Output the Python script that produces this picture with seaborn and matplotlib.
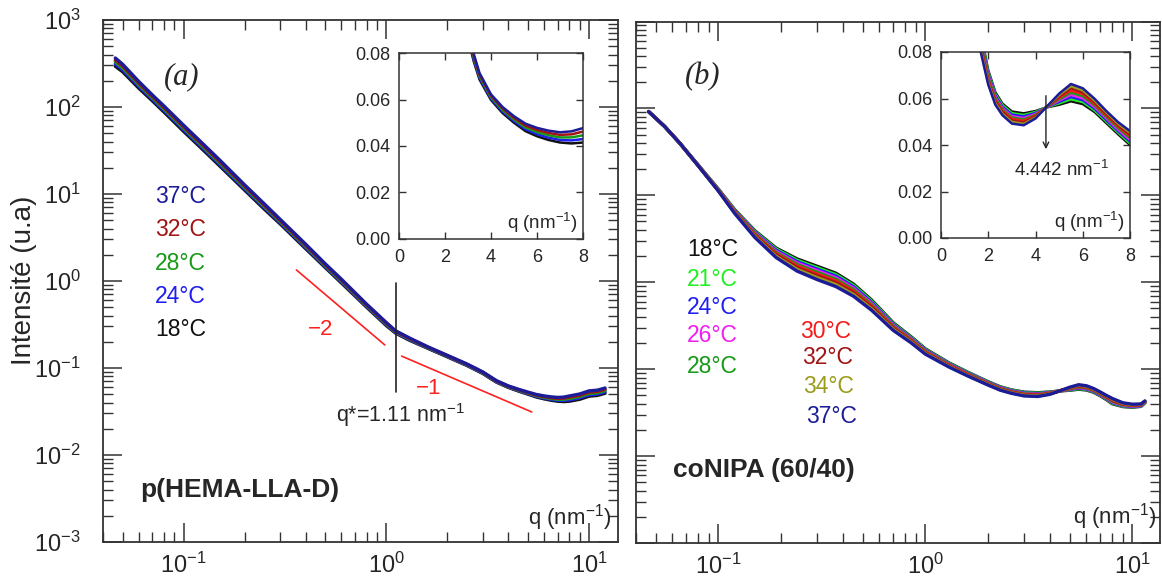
import matplotlib.pyplot as plt
import numpy as np
import pandas as pd
import seaborn as sns
from matplotlib.ticker import LogLocator, NullFormatter, FixedLocator, FormatStrFormatter

sns.set_style("ticks")
plt.rcParams['font.family'] = ['Liberation Sans', 'DejaVu Sans']
plt.rcParams['mathtext.fontset'] = 'custom'
plt.rcParams['mathtext.rm'] = 'Liberation Sans'
plt.rcParams['mathtext.it'] = 'Liberation Sans:italic'
plt.rcParams['mathtext.bf'] = 'Liberation Sans:bold'

# ---- panel (a) : p(HEMA-LLA-D) ----
q_a = [0.046, 0.05, 0.06, 0.07, 0.08, 0.1, 0.12, 0.15, 0.2, 0.25, 0.3, 0.4, 0.5, 0.6, 0.8,
       1.0, 1.11, 1.3, 1.6, 2.0, 2.5, 3.0, 3.25, 3.5, 4.0, 4.5, 5.0, 5.5, 6.0, 6.5, 7.0,
       7.5, 8.0, 9.0, 10.0, 11.0, 12.0]
i_a_37 = [366, 310, 197, 138, 102.6, 61.6, 41.0, 24.8, 12.73, 7.70, 5.09, 2.65, 1.575, 1.05, 0.541,
          0.333, 0.268, 0.2215, 0.1754, 0.1397, 0.1112, 0.0898, 0.0796, 0.0714, 0.0622, 0.0568, 0.0528,
          0.0496, 0.0478, 0.0466, 0.0459, 0.0463, 0.0477, 0.0503, 0.0546, 0.0556, 0.0589]
i_a_32 = [348, 296, 189, 133, 98.8, 59.3, 39.5, 23.9, 12.32, 7.45, 4.94, 2.575, 1.5375, 1.025, 0.530,
          0.326, 0.264, 0.218, 0.1737, 0.1384, 0.1101, 0.0889, 0.0788, 0.0707, 0.0616, 0.0562, 0.0521,
          0.0488, 0.0469, 0.0456, 0.0448, 0.0450, 0.0462, 0.0486, 0.0528, 0.0538, 0.0569]
i_a_28 = [330, 282, 181, 128, 95, 57, 38, 23, 11.9, 7.2, 4.8, 2.5, 1.5, 1.0, 0.52,
          0.32, 0.26, 0.215, 0.172, 0.137, 0.109, 0.088, 0.078, 0.070, 0.061, 0.0555, 0.0514,
          0.048, 0.046, 0.0446, 0.0437, 0.0437, 0.0446, 0.047, 0.051, 0.052, 0.055]
i_a_24 = [312, 268, 173, 123, 91.2, 54.7, 36.5, 22.1, 11.48, 6.95, 4.66, 2.425, 1.4625, 0.975, 0.510,
          0.314, 0.256, 0.212, 0.1703, 0.1356, 0.1079, 0.0871, 0.0772, 0.0693, 0.0604, 0.0548, 0.0507,
          0.0472, 0.0451, 0.0436, 0.0426, 0.0424, 0.0430, 0.0454, 0.0492, 0.0502, 0.0531]
i_a_18 = [294, 254, 165, 118, 87.4, 52.4, 35.0, 21.2, 11.07, 6.70, 4.51, 2.35, 1.425, 0.95, 0.499,
          0.307, 0.252, 0.2085, 0.1686, 0.1343, 0.1068, 0.0862, 0.0764, 0.0686, 0.0598, 0.0542, 0.0500,
          0.0464, 0.0442, 0.0426, 0.0415, 0.0411, 0.0415, 0.0437, 0.0474, 0.0484, 0.0512]
temps_a = ['18°C', '24°C', '28°C', '32°C', '37°C']

# guide lines
slope2_q, slope2_i = [0.36, 0.983], [1.34, 0.184]
slope1_q, slope1_i = [1.19, 5.22], [0.137, 0.0312]
qstar_q, qstar_i = [1.11, 1.11], [0.95, 0.053]

# ---- panel (b) : coNIPA (60/40) ----
q_b = [0.046, 0.055, 0.065, 0.08, 0.1, 0.12, 0.15, 0.19, 0.24, 0.3, 0.37, 0.45, 0.55, 0.7, 0.85,
       1.0, 1.3, 1.6, 2.0, 2.3, 2.6, 3.0, 3.5, 4.0, 4.44, 5.0, 5.5, 6.0, 6.5, 7.0, 7.5, 8.0,
       9.0, 10.0, 11.0, 11.5]
i_b_18 = [92, 62, 40, 22.2, 11.79, 6.83, 3.92, 2.475, 1.856, 1.528, 1.269, 0.951, 0.624, 0.341, 0.2376,
          0.1712, 0.1182, 0.0924, 0.0721, 0.0627, 0.0578, 0.0544, 0.0536, 0.0546, 0.0561, 0.0573, 0.0588,
          0.0576, 0.0542, 0.0494, 0.0446, 0.0400, 0.0371, 0.0365, 0.0373, 0.0410]
i_b_21 = [92, 62, 40, 22.2, 11.72, 6.74, 3.84, 2.41, 1.792, 1.47, 1.221, 0.918, 0.606, 0.333, 0.2332,
          0.1684, 0.1166, 0.0913, 0.0713, 0.0620, 0.0572, 0.0537, 0.0529, 0.0542, 0.0561, 0.0579, 0.0597,
          0.0585, 0.0549, 0.0501, 0.0453, 0.0407, 0.0375, 0.0369, 0.0376, 0.0412]
i_b_24 = [92, 62, 40, 22.1, 11.64, 6.66, 3.76, 2.34, 1.728, 1.414, 1.175, 0.886, 0.587, 0.3255, 0.2288,
          0.1656, 0.1151, 0.0902, 0.0706, 0.0614, 0.0565, 0.0531, 0.0523, 0.0538, 0.0561, 0.0585, 0.0606,
          0.0593, 0.0556, 0.0507, 0.0459, 0.0415, 0.0380, 0.0372, 0.0379, 0.0415]
i_b_26 = [92, 62, 40, 22.1, 11.57, 6.58, 3.68, 2.27, 1.664, 1.357, 1.127, 0.853, 0.569, 0.318, 0.2244,
          0.1628, 0.1136, 0.0891, 0.0698, 0.0607, 0.0559, 0.0524, 0.0516, 0.0534, 0.0561, 0.0591, 0.0616,
          0.0601, 0.0563, 0.0514, 0.0465, 0.0422, 0.0385, 0.0376, 0.0382, 0.0417]
i_b_28 = [92, 62, 40, 22.0, 11.5, 6.5, 3.6, 2.2, 1.6, 1.3, 1.08, 0.82, 0.55, 0.31, 0.22,
          0.16, 0.112, 0.088, 0.069, 0.060, 0.0553, 0.0518, 0.051, 0.053, 0.0561, 0.0597, 0.0625,
          0.061, 0.057, 0.052, 0.0472, 0.043, 0.039, 0.038, 0.0385, 0.042]
i_b_30 = [92, 62, 40, 21.9, 11.43, 6.42, 3.52, 2.13, 1.536, 1.243, 1.033, 0.787, 0.531, 0.302, 0.2156,
          0.1572, 0.1104, 0.0869, 0.0682, 0.0593, 0.0547, 0.0512, 0.0504, 0.0526, 0.0561, 0.0603, 0.0634,
          0.0619, 0.0577, 0.0527, 0.0479, 0.0438, 0.0395, 0.0384, 0.0388, 0.0423]
i_b_32 = [92, 62, 40, 21.9, 11.36, 6.34, 3.44, 2.06, 1.472, 1.186, 0.986, 0.754, 0.513, 0.2945, 0.2112,
          0.1544, 0.1089, 0.0858, 0.0674, 0.0587, 0.0541, 0.0505, 0.0497, 0.0522, 0.0561, 0.0609, 0.0644,
          0.0627, 0.0584, 0.0533, 0.0485, 0.0445, 0.0400, 0.0388, 0.0391, 0.0425]
i_b_34 = [92, 62, 40, 21.8, 11.28, 6.26, 3.36, 1.99, 1.408, 1.13, 0.939, 0.722, 0.494, 0.287, 0.2068,
          0.1516, 0.1074, 0.0847, 0.0667, 0.0580, 0.0534, 0.0499, 0.0491, 0.0518, 0.0561, 0.0615, 0.0653,
          0.0635, 0.0591, 0.0540, 0.0491, 0.0453, 0.0405, 0.0391, 0.0394, 0.0428]
i_b_37 = [92, 62, 40, 21.8, 11.21, 6.18, 3.28, 1.925, 1.344, 1.073, 0.891, 0.689, 0.476, 0.279, 0.2024,
          0.1488, 0.1058, 0.0836, 0.0659, 0.0573, 0.0528, 0.0492, 0.0485, 0.0514, 0.0561, 0.0621, 0.06625,
          0.0644, 0.0599, 0.0546, 0.0498, 0.0460, 0.0410, 0.0395, 0.0397, 0.0431]
temps_b = ['18°C', '21°C', '24°C', '26°C', '28°C', '30°C', '32°C', '34°C', '37°C']

colors = {'18°C': '#111111', '21°C': '#22ee22', '24°C': '#1f1ff0', '26°C': '#f020f0',
          '28°C': '#179a17', '30°C': '#f41a1a', '32°C': '#a01414', '34°C': '#9c9c1c',
          '37°C': '#1c1c98'}

df_a = pd.concat([pd.DataFrame({'q': q_a, 'I': v, 'T': t})
                  for t, v in zip(temps_a, [i_a_18, i_a_24, i_a_28, i_a_32, i_a_37])])
df_b = pd.concat([pd.DataFrame({'q': q_b, 'I': v, 'T': t})
                  for t, v in zip(temps_b, [i_b_18, i_b_21, i_b_24, i_b_26, i_b_28,
                                            i_b_30, i_b_32, i_b_34, i_b_37])])

W, H = 1162, 583
fig = plt.figure(figsize=(W / 100, H / 100), dpi=100)
ax_a = fig.add_axes([103 / W, 1 - 542 / H, 515 / W, 522 / H])
ax_b = fig.add_axes([636 / W, 1 - 543 / H, 524 / W, 521.5 / H])
in_a = fig.add_axes([399 / W, 1 - 239 / H, 184 / W, 186 / H])
in_b = fig.add_axes([941 / W, 1 - 238 / H, 189 / W, 186 / H])

spine_c = '#333333'


def style_main(ax, xmax, ylabels):
    ax.set_xscale('log')
    ax.set_yscale('log')
    ax.set_xlim(0.04, xmax)
    ax.set_ylim(1e-3, 1e3)
    for axis in (ax.xaxis, ax.yaxis):
        axis.set_major_locator(LogLocator(base=10, numticks=12))
        axis.set_minor_locator(LogLocator(base=10, subs=np.arange(2, 10), numticks=12))
        axis.set_minor_formatter(NullFormatter())
    ax.tick_params(which='both', direction='in', top=True, right=True, color=spine_c)
    ax.tick_params(which='major', length=14, width=1.1)
    ax.tick_params(which='minor', length=7, width=1.0)
    ax.tick_params(axis='x', pad=8, labelsize=17)
    ax.tick_params(axis='y', pad=16, labelsize=17, labelleft=ylabels)
    for s in ax.spines.values():
        s.set_linewidth(1.3)
        s.set_color(spine_c)
    ax.set_xlabel('')
    ax.set_ylabel('')


def style_inset(ax):
    ax.set_xlim(0, 8)
    ax.set_ylim(0, 0.08)
    ax.xaxis.set_major_locator(FixedLocator([0, 2, 4, 6, 8]))
    ax.yaxis.set_major_locator(FixedLocator([0, 0.02, 0.04, 0.06, 0.08]))
    ax.yaxis.set_major_formatter(FormatStrFormatter('%.2f'))
    ax.tick_params(which='major', direction='in', top=True, right=True, length=5,
                   width=1.0, labelsize=13, color=spine_c)
    ax.tick_params(axis='x', pad=7)
    ax.tick_params(axis='y', pad=6)
    for s in ax.spines.values():
        s.set_linewidth(1.1)
        s.set_color(spine_c)
    ax.set_xlabel('')
    ax.set_ylabel('')


# main curves
sns.lineplot(data=df_a, x='q', y='I', hue='T', hue_order=temps_a, palette=colors,
             estimator=None, sort=False, legend=False, lw=2.4, ax=ax_a)
sns.lineplot(data=df_b, x='q', y='I', hue='T', hue_order=temps_b, palette=colors,
             estimator=None, sort=False, legend=False, lw=2.4, ax=ax_b)
style_main(ax_a, 13.9, True)
style_main(ax_b, 13.6, False)

# insets
sns.lineplot(data=df_a[df_a['q'] >= 2.5], x='q', y='I', hue='T', hue_order=temps_a,
             palette=colors, estimator=None, sort=False, legend=False, lw=1.8, ax=in_a)
sns.lineplot(data=df_b[df_b['q'] >= 1.3], x='q', y='I', hue='T', hue_order=temps_b,
             palette=colors, estimator=None, sort=False, legend=False, lw=1.8, ax=in_b)
style_inset(in_a)
style_inset(in_b)

# guide lines in panel (a)
ax_a.plot(slope2_q, slope2_i, color='#ff2020', lw=1.2)
ax_a.plot(slope1_q, slope1_i, color='#ff2020', lw=1.2)
ax_a.plot(qstar_q, qstar_i, color='#222222', lw=1.2)
ax_a.text(0.423, 0.408, '\u22122', color='#ff2020', fontsize=16, ha='center', va='center',
          transform=ax_a.transAxes)
ax_a.text(0.633, 0.295, '\u22121', color='#ff2020', fontsize=16, ha='center', va='center',
          transform=ax_a.transAxes)
ax_a.text(0.577, 0.243, 'q*=1.11 nm$^{-1}$', fontsize=15.5, ha='center', va='center',
          transform=ax_a.transAxes)

# panel texts
ax_a.text(0.153, 0.891, '(a)', fontsize=22, family='Liberation Serif', style='italic',
          ha='center', va='center', transform=ax_a.transAxes)
ax_b.text(0.128, 0.894, '(b)', fontsize=22, family='Liberation Serif', style='italic',
          ha='center', va='center', transform=ax_b.transAxes)
ax_a.text(0.072, 0.0996, 'p(HEMA-LLA-D)', fontsize=19, fontweight='bold', ha='left',
          va='center', transform=ax_a.transAxes)
ax_b.text(0.0706, 0.14, 'coNIPA (60/40)', fontsize=19, fontweight='bold', ha='left',
          va='center', transform=ax_b.transAxes)
ax_a.text(0.988, 0.046, 'q (nm$^{-1}$)', fontsize=16, ha='right', va='center',
          transform=ax_a.transAxes)
ax_b.text(0.994, 0.05, 'q (nm$^{-1}$)', fontsize=16, ha='right', va='center',
          transform=ax_b.transAxes)

# temperature labels
for t, y in zip(['37°C', '32°C', '28°C', '24°C', '18°C'], [0.661, 0.598, 0.534, 0.471, 0.408]):
    ax_a.text(0.101, y, t, color=colors[t], fontsize=16.5, ha='left', va='center',
              transform=ax_a.transAxes)
for t, x, y in zip(temps_b,
                   [0.097, 0.097, 0.097, 0.097, 0.097, 0.313, 0.317, 0.319, 0.324],
                   [0.562, 0.506, 0.451, 0.397, 0.339, 0.405, 0.355, 0.300, 0.242]):
    ax_b.text(x, y, t, color=colors[t], fontsize=16.5, ha='left', va='center',
              transform=ax_b.transAxes)

# inset texts
in_a.text(0.973, 0.086, 'q (nm$^{-1}$)', fontsize=13.5, ha='right', va='center',
          transform=in_a.transAxes)
in_b.text(0.974, 0.086, 'q (nm$^{-1}$)', fontsize=13.5, ha='right', va='center',
          transform=in_b.transAxes)
in_b.annotate('', xy=(4.442, 0.037), xytext=(4.442, 0.0624),
              arrowprops=dict(arrowstyle='->', color='#222222', lw=1.0))
in_b.text(5.08, 0.0294, '4.442 nm$^{-1}$', fontsize=13.5, ha='center', va='center')

fig.text(0.021, 1 - 280 / H, 'Intensité (u.a)', rotation=90, fontsize=20,
         ha='center', va='center')

fig.savefig('out.png', dpi=100)
